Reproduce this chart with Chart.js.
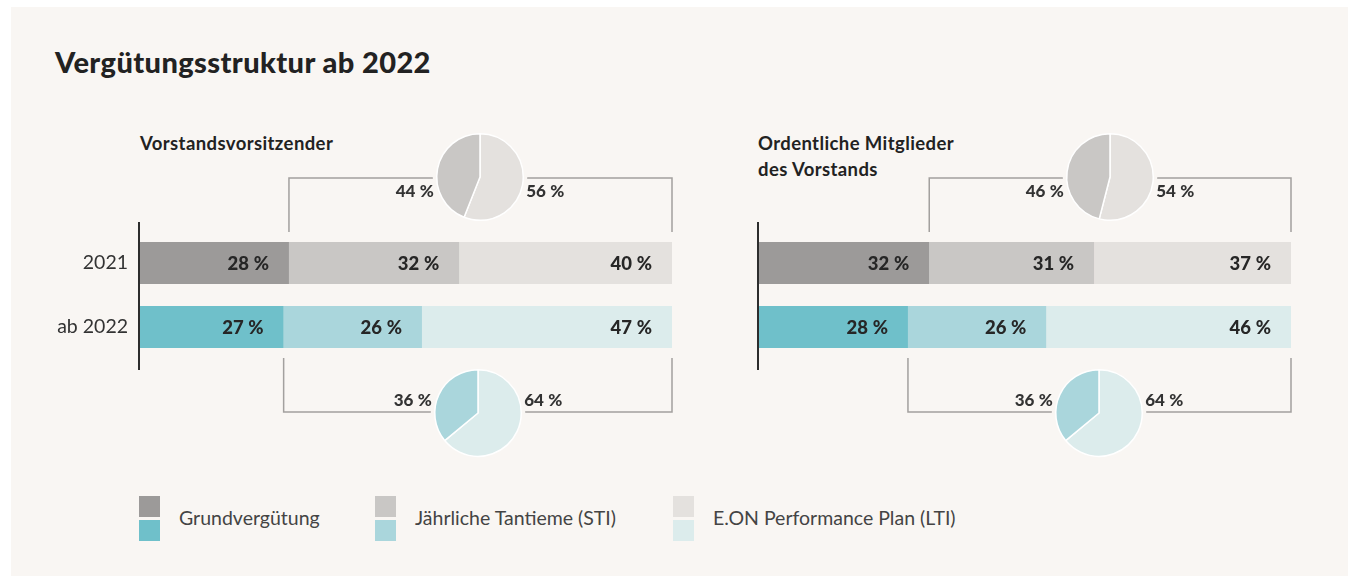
<!DOCTYPE html>
<html lang="de">
<head>
<meta charset="utf-8">
<title>Vergütungsstruktur ab 2022</title>
<script src="https://cdn.jsdelivr.net/npm/chart.js@4.4.0/dist/chart.umd.min.js"></script>
<style>
  html, body { margin: 0; padding: 0; background: #ffffff; }
  body {
    position: relative; width: 1348px; height: 576px; overflow: hidden;
    font-family: Lato, "Open Sans", sans-serif; color: #2a2a2a;
  }
  #frame { position: absolute; left: 11px; top: 7px; right: 0; bottom: 0; background: #f9f6f3; }
  h1 {
    position: absolute; left: 55px; top: 46px; margin: 0;
    font-size: 29px; line-height: 32px; font-weight: 900; color: #222;
    letter-spacing: 0.4px;
  }
  .sub {
    position: absolute; top: 130px; margin: 0;
    font-size: 18.5px; line-height: 26px; font-weight: 700; color: #222;
    letter-spacing: 0.4px;
  }
  canvas { position: absolute; }
  .legend-item { position: absolute; top: 496px; height: 45px; }
  .legend-item .sw { position: absolute; left: 0; width: 21px; height: 21px; }
  .legend-item .txt {
    position: absolute; left: 40px; top: 10px; white-space: nowrap;
    font-size: 19.5px; line-height: 24px; color: #444;
  }
</style>
</head>
<body>
<div id="frame"></div>
<h1>Vergütungsstruktur ab 2022</h1>
<p class="sub" style="left:140px">Vorstandsvorsitzender</p>
<p class="sub" style="left:758px">Ordentliche Mitglieder<br>des Vorstands</p>

<canvas id="barsCeo" width="700" height="250" style="left:0px;top:170px"></canvas>
<canvas id="barsMembers" width="700" height="250" style="left:619px;top:170px"></canvas>
<canvas id="pieCeo2021" width="240" height="96"></canvas>
<canvas id="pieCeo2022" width="240" height="96"></canvas>
<canvas id="pieMembers2021" width="240" height="96"></canvas>
<canvas id="pieMembers2022" width="240" height="96"></canvas>
<div id="legend"></div>

<script>
// ===== Data =====
const rows = ["2021", "ab 2022"];
const seriesNames = ["Grundvergütung", "Jährliche Tantieme (STI)", "E.ON Performance Plan (LTI)"];

// Vorstandsvorsitzender
const ceoGrund = [28, 27];
const ceoSti = [32, 26];
const ceoLti = [40, 47];
// share of the variable part: [LTI, STI]
const ceoPie2021 = [56, 44];
const ceoPie2022 = [64, 36];

// Ordentliche Mitglieder des Vorstands
const memberGrund = [32, 28];
const memberSti = [31, 26];
const memberLti = [37, 46];
const memberPie2021 = [54, 46];
const memberPie2022 = [64, 36];

// colours per component, one row each year
const colors2021 = ["#9c9a99", "#c9c7c5", "#e4e1de"];
const colors2022 = ["#6fc0ca", "#aad6dc", "#dcecec"];
const bgColor = "#f9f6f3";
const fontFamily = "Lato, 'Open Sans', sans-serif";

const pct = v => v + "\u202F%";

// ===== Bar extras: values, axis line, brackets =====
const barExtras = {
  id: "barExtras",
  afterDatasetsDraw(chart) {
    const ctx = chart.ctx;
    const area = chart.chartArea;
    ctx.save();

    // value labels inside the segments
    ctx.font = "900 18.5px " + fontFamily;
    ctx.fillStyle = "#262626";
    ctx.textAlign = "right";
    ctx.textBaseline = "middle";
    chart.data.datasets.forEach((ds, i) => {
      chart.getDatasetMeta(i).data.forEach((bar, j) => {
        ctx.fillText(pct(ds.data[j]), bar.x - 20, bar.y + 1);
      });
    });

    // vertical axis line
    ctx.strokeStyle = "#2d2d2d";
    ctx.lineWidth = 2;
    ctx.beginPath();
    ctx.moveTo(area.left - 1, area.top - 9);
    ctx.lineTo(area.left - 1, area.bottom + 11);
    ctx.stroke();

    // brackets round the variable part (STI + LTI)
    ctx.strokeStyle = "#a3a09e";
    ctx.lineWidth = 1.5;
    const first = chart.getDatasetMeta(0).data;
    const top = first[0], bottom = first[1];
    const topEdge = top.y - top.height / 2;
    const bottomEdge = bottom.y + bottom.height / 2;
    ctx.beginPath();
    ctx.moveTo(top.x, topEdge - 10);
    ctx.lineTo(top.x, topEdge - 64);
    ctx.lineTo(area.right, topEdge - 64);
    ctx.lineTo(area.right, topEdge - 10);
    ctx.moveTo(bottom.x, bottomEdge + 10);
    ctx.lineTo(bottom.x, bottomEdge + 64);
    ctx.lineTo(area.right, bottomEdge + 64);
    ctx.lineTo(area.right, bottomEdge + 10);
    ctx.stroke();
    ctx.restore();
  }
};

// ===== Pie extras: halo over the bracket line, side labels =====
const pieLabels = {
  id: "pieLabels",
  beforeDatasetsDraw(chart) {
    const arc = chart.getDatasetMeta(0).data[0];
    const ctx = chart.ctx;
    ctx.save();
    ctx.fillStyle = bgColor;
    ctx.beginPath();
    ctx.arc(arc.x, arc.y, arc.outerRadius + 4, 0, Math.PI * 2);
    ctx.fill();
    ctx.restore();
  },
  afterDatasetsDraw(chart, args, opts) {
    const arc = chart.getDatasetMeta(0).data[0];
    const vals = chart.data.datasets[0].data;
    const ctx = chart.ctx;
    ctx.save();
    ctx.font = "900 17px " + fontFamily;
    ctx.fillStyle = "#333";
    ctx.textBaseline = "middle";
    ctx.textAlign = "right";
    ctx.fillText(pct(vals[1]), arc.x - arc.outerRadius - 3, arc.y + opts.dy);
    ctx.textAlign = "left";
    ctx.fillText(pct(vals[0]), arc.x + arc.outerRadius + 3, arc.y + opts.dy);
    ctx.restore();
  }
};

function makeBars(id, grund, sti, lti, showRows) {
  const values = [grund, sti, lti];
  return new Chart(document.getElementById(id), {
    type: "bar",
    data: {
      labels: rows,
      datasets: values.map((v, i) => ({
        label: seriesNames[i],
        data: v,
        backgroundColor: [colors2021[i], colors2022[i]],
        borderWidth: 0,
        barPercentage: 0.66,
        categoryPercentage: 1
      }))
    },
    options: {
      indexAxis: "y",
      responsive: false,
      animation: false,
      layout: { padding: { top: 61, bottom: 61, right: 28, left: 0 } },
      plugins: { legend: { display: false }, tooltip: { enabled: false } },
      scales: {
        x: { display: false, stacked: true, min: 0, max: 100 },
        y: {
          stacked: true,
          afterFit: s => { s.width = 140; },
          grid: { display: false, drawTicks: false },
          border: { display: false },
          ticks: {
            display: showRows,
            color: "#333",
            padding: 12,
            font: { size: 19.5, family: fontFamily }
          }
        }
      }
    },
    plugins: [barExtras]
  });
}

function makePie(id, values, colors, cx, cy, dy) {
  const canvas = document.getElementById(id);
  canvas.style.left = (cx - canvas.width / 2) + "px";
  canvas.style.top = (cy - canvas.height / 2) + "px";
  return new Chart(canvas, {
    type: "pie",
    data: {
      labels: [seriesNames[2], seriesNames[1]],
      datasets: [{
        data: values,
        backgroundColor: colors,
        borderColor: "#ffffff",
        borderWidth: 1.5
      }]
    },
    options: {
      responsive: false,
      animation: false,
      layout: { padding: { top: 4, bottom: 4 } },
      plugins: {
        legend: { display: false },
        tooltip: { enabled: false },
        pieLabels: { dy: dy }
      }
    },
    plugins: [pieLabels]
  });
}

// place each pie on the middle of its bracket
function addPies(bars, offsetLeft, offsetTop, pieTop, pieBottom, ids) {
  const first = bars.getDatasetMeta(0).data;
  const right = bars.chartArea.right;
  const topY = first[0].y - first[0].height / 2 - 64;
  const bottomY = first[1].y + first[1].height / 2 + 64;
  makePie(ids[0], pieTop, [colors2021[2], colors2021[1]],
    offsetLeft + (first[0].x + right) / 2, offsetTop + topY - 1, 15);
  makePie(ids[1], pieBottom, [colors2022[2], colors2022[1]],
    offsetLeft + (first[1].x + right) / 2, offsetTop + bottomY + 1, -12);
}

const ceoBars = makeBars("barsCeo", ceoGrund, ceoSti, ceoLti, true);
const memberBars = makeBars("barsMembers", memberGrund, memberSti, memberLti, false);
addPies(ceoBars, 0, 170, ceoPie2021, ceoPie2022, ["pieCeo2021", "pieCeo2022"]);
addPies(memberBars, 619, 170, memberPie2021, memberPie2022, ["pieMembers2021", "pieMembers2022"]);

// ===== Legend =====
const legendLeft = [139, 375, 673];
const legend = document.getElementById("legend");
seriesNames.forEach((name, i) => {
  const item = document.createElement("div");
  item.className = "legend-item";
  item.style.left = legendLeft[i] + "px";
  item.innerHTML =
    `<span class="sw" style="top:0;background:${colors2021[i]}"></span>` +
    `<span class="sw" style="top:24px;background:${colors2022[i]}"></span>` +
    `<span class="txt">${name}</span>`;
  legend.appendChild(item);
});
</script>
</body>
</html>
